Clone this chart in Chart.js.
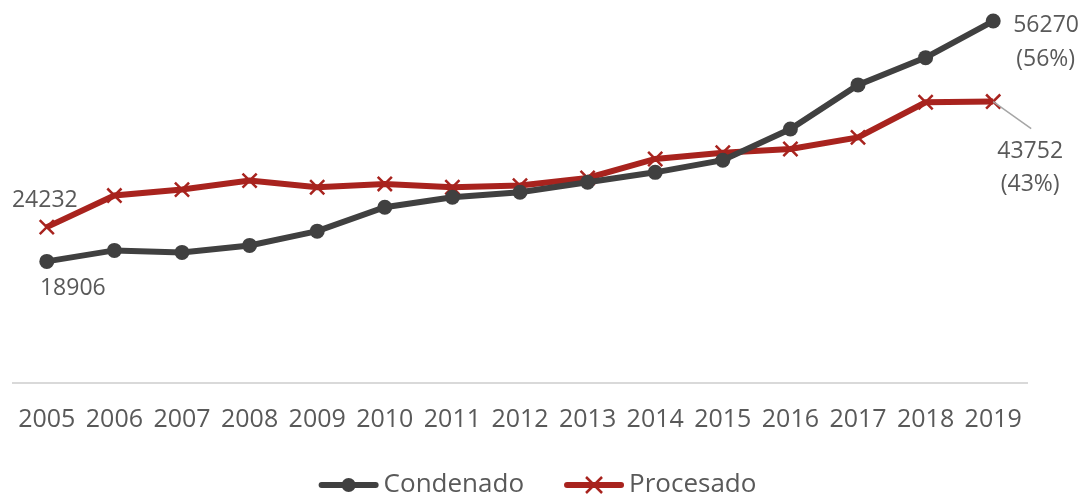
<!DOCTYPE html>
<html>
<head>
<meta charset="utf-8">
<script src="https://cdn.jsdelivr.net/npm/chart.js@4.4.1/dist/chart.umd.min.js"></script>
<style>
  html,body{margin:0;padding:0;background:#fff;}
  #wrap{width:1083px;height:496px;position:relative;}
</style>
</head>
<body>
<div id="wrap"><canvas id="c" width="1083" height="496"></canvas></div>
<script>
const years = ['2005','2006','2007','2008','2009','2010','2011','2012','2013','2014','2015','2016','2017','2018','2019'];
const condenado = [18906,20615,20305,21390,23610,27330,28880,29650,31200,32750,34640,39480,46345,50580,56270];
const procesado = [24232,29140,30070,31465,30430,30950,30430,30690,31880,34830,35805,36380,38180,43650,43752];
const seriesNames = ['Condenado','Procesado'];
const endShares = ['(56%)','(43%)'];

const FONT = '"Open Sans", sans-serif';
const TXT = '#595959';
const GRAY = '#404040';
const RED = '#A8231E';

const labelsPlugin = {
  id: 'labels',
  afterDatasetsDraw(chart) {
    const ctx = chart.ctx;
    ctx.save();
    ctx.font = '23px ' + FONT;
    ctx.fillStyle = TXT;
    ctx.textBaseline = 'middle';
    const c = chart.getDatasetMeta(0).data;
    const p = chart.getDatasetMeta(1).data;
    const last = years.length - 1;
    ctx.textAlign = 'center';
    ctx.fillText(String(procesado[0]), p[0].x - 2, p[0].y - 27);
    ctx.fillText(String(condenado[0]), c[0].x + 26, c[0].y + 27);
    ctx.textAlign = 'left';
    ctx.fillText(String(condenado[last]), c[last].x + 20, c[last].y + 4);
    ctx.fillText(endShares[0], c[last].x + 23, c[last].y + 38);
    ctx.strokeStyle = '#a6a6a6';
    ctx.lineWidth = 1.5;
    ctx.beginPath();
    ctx.moveTo(p[last].x, p[last].y);
    ctx.lineTo(p[last].x + 38, p[last].y + 27);
    ctx.stroke();
    ctx.textAlign = 'center';
    ctx.fillText(String(procesado[last]), p[last].x + 37, p[last].y + 50);
    ctx.fillText(endShares[1], p[last].x + 37, p[last].y + 83);
    ctx.restore();
  },
  afterDraw(chart) {
    const ctx = chart.ctx;
    ctx.save();
    ctx.font = '26px ' + FONT;
    ctx.textBaseline = 'middle';
    const y = 485;
    const lineLen = 60, gap = 5, between = 40;
    const ds = chart.data.datasets;
    let total = 0;
    const widths = ds.map(d => ctx.measureText(d.label).width);
    widths.forEach((w, i) => { total += lineLen + gap + w + (i < widths.length - 1 ? between : 0); });
    let x = (chart.width - total) / 2 - 4;
    ds.forEach((d, i) => {
      ctx.strokeStyle = d.borderColor;
      ctx.lineWidth = 6;
      ctx.lineCap = 'round';
      ctx.beginPath();
      ctx.moveTo(x + 3, y);
      ctx.lineTo(x + lineLen - 3, y);
      ctx.stroke();
      const cx = x + lineLen / 2;
      if (d.pointStyle === 'circle') {
        ctx.fillStyle = d.borderColor;
        ctx.beginPath();
        ctx.arc(cx, y, 7, 0, Math.PI * 2);
        ctx.fill();
      } else {
        ctx.lineWidth = 2.5;
        ctx.lineCap = 'butt';
        const r = 8;
        ctx.beginPath();
        ctx.moveTo(cx - r, y - r); ctx.lineTo(cx + r, y + r);
        ctx.moveTo(cx - r, y + r); ctx.lineTo(cx + r, y - r);
        ctx.stroke();
      }
      ctx.fillStyle = TXT;
      ctx.textAlign = 'left';
      ctx.fillText(d.label, x + lineLen + gap, y);
      x += lineLen + gap + widths[i] + between;
    });
    ctx.restore();
  }
};

new Chart(document.getElementById('c'), {
  type: 'line',
  data: {
    labels: years,
    datasets: [
      {
        label: seriesNames[0],
        data: condenado,
        borderColor: GRAY,
        backgroundColor: GRAY,
        borderWidth: 6,
        pointStyle: 'circle',
        pointRadius: 7.5,
        pointBorderWidth: 0,
        pointBackgroundColor: GRAY,
        tension: 0,
        clip: false
      },
      {
        label: seriesNames[1],
        data: procesado,
        borderColor: RED,
        backgroundColor: RED,
        borderWidth: 6,
        pointStyle: 'crossRot',
        pointRadius: 10,
        pointBorderWidth: 2.5,
        pointBorderColor: RED,
        tension: 0,
        clip: false
      }
    ]
  },
  options: {
    responsive: false,
    animation: false,
    devicePixelRatio: 1,
    layout: { padding: { left: 13, right: 56, top: 0, bottom: 63 } },
    plugins: {
      legend: { display: false },
      tooltip: { enabled: false }
    },
    scales: {
      x: {
        offset: true,
        grid: { display: false, drawTicks: false },
        border: { display: true, color: '#d9d9d9', width: 2 },
        ticks: { color: TXT, font: { family: FONT, size: 25 }, padding: 22, maxRotation: 0, autoSkip: false },
        afterFit(scale) { scale.height = 50; scale.paddingLeft = 0; scale.paddingRight = 0; }
      },
      y: {
        display: false,
        min: 0,
        max: 57600
      }
    }
  },
  plugins: [labelsPlugin]
});
</script>
</body>
</html>
